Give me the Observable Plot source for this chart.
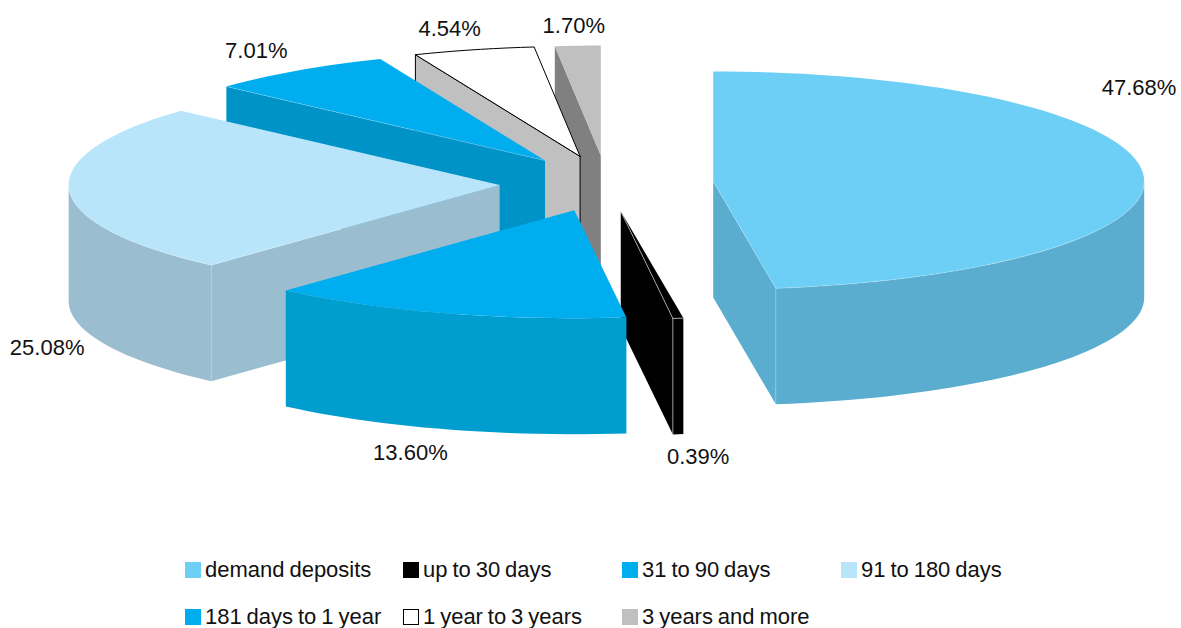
<!DOCTYPE html>
<html>
<head>
<meta charset="utf-8">
<script src="https://cdn.jsdelivr.net/npm/d3@7"></script>
<script src="https://cdn.jsdelivr.net/npm/@observablehq/plot@0.6"></script>
<style>
  html, body { margin: 0; padding: 0; background: #fff; overflow: hidden; }
  #chart svg { display: block; background: #fff; }
  #legend { height: 83px; box-sizing: border-box; padding: 0 0 0 185px; display: grid;
    grid-template-columns: 218px 219px 219px auto; grid-auto-rows: 47px;
    font: 22px/24px "Liberation Sans", Arial, sans-serif; word-spacing: -1.2px; color: #111; }
  #legend div { display: flex; align-items: center; white-space: nowrap; height: 47px; margin-top: 1px; }
  #legend i { display: inline-block; width: 16px; height: 16px; margin-right: 4px; box-sizing: border-box; flex: none; }
</style>
</head>
<body>
<div id="chart"></div>
<div id="legend"></div>
<script>
// Data
const categories = ["demand deposits", "up to 30 days", "31 to 90 days", "91 to 180 days", "181 days to 1 year", "1 year to 3 years", "3 years and more"];
const shares = [47.68, 0.39, 13.60, 25.08, 7.01, 4.54, 1.70];

// Styles
const topColors  = ["#6DCFF6", "#000000", "#00AEEF", "#B9E5FB", "#00AEEF", "#FFFFFF", "#C0C0C0"];
const wallColors = ["#5BADCF", "#000000", "#009DCF", "#9ABDD0", "#0093C8", "#C0C0C0", "#808080"];
const outlines   = ["none", "none", "none", "none", "none", "#000000", "none"];
const seams      = [0.3, 0.8, 0, 0.25, 0.3, 0, 0];
const paintOrder = [6, 5, 4, 3, 1, 2, 0];

// Pie layout (an exploded pie in oblique view, in chart units)
const W = 1181, H = 545;
const cx = 606, cy = 183, rx = 431, ryBack = 110, ryFront = 108, depth = 116, exX = 107, exY = 28;
const labelDx = [-4, 20, -34, -22, -41, -24, -4];
const labelDy = [-85, 139, 140, 158, -20, -21, -20];

const rad = d => d * Math.PI / 180;
const total = d3.sum(shares);
let acc = 0;
const slices = shares.map((v, i) => {
  const a0 = acc / total * 360; acc += v;
  const a1 = acc / total * 360, m = (a0 + a1) / 2;
  const ax = cx + exX * Math.sin(rad(m)), ay = cy - exY * Math.cos(rad(m));
  return {i, v, a0, a1, m, ax, ay};
});
const rim = (s, a, dz = 0) => {
  const c = Math.cos(rad(a));
  return [s.ax + rx * Math.sin(rad(a)), s.ay - (c > 0 ? ryBack : ryFront) * c + dz];
};
const arc = (s, from, to, dz = 0) => {
  const n = Math.max(1, Math.ceil(Math.abs(to - from) / 2));
  return d3.range(n + 1).map(k => rim(s, from + (to - from) * k / n, dz));
};
const rows = (polys, extra) => polys.flatMap((pts, id) => pts.map(([x, y]) => ({x, y, id, ...extra(id)})));

const sliceMarks = paintOrder.flatMap(i => {
  const s = slices[i], A = [s.ax, s.ay], Ab = [s.ax, s.ay + depth];
  const frontCut = Math.cos(rad(s.a1 + 90)) < -1e-9 ? s.a1 : Math.cos(rad(s.a0 - 90)) < -1e-9 ? s.a0 : null;
  const o0 = Math.max(s.a0, 90), o1 = Math.min(s.a1, 270);
  const polys = [], fills = [], lines = [];
  if (frontCut !== null) { polys.push([A, rim(s, frontCut), rim(s, frontCut, depth), Ab]); fills.push(wallColors[i]); }
  if (o1 > o0) { polys.push([...arc(s, o0, o1), ...arc(s, o1, o0, depth)]); fills.push(wallColors[i]); }
  polys.push([A, ...arc(s, s.a0, s.a1)]); fills.push(topColors[i]);
  if (seams[i] > 0) {
    if (frontCut !== null) lines.push([A, rim(s, frontCut), rim(s, frontCut, depth)]);
    if (o1 > o0) lines.push(arc(s, o0, o1));
  }
  const closed = polys.map(p => [...p, p[0]]);
  return [
    Plot.line(rows(closed, id => ({fill: fills[id]})), {x: "x", y: "y", z: "id", fill: "fill", stroke: outlines[i], strokeWidth: 1, curve: "linear"}),
    Plot.line(rows(lines, () => ({})), {x: "x", y: "y", z: "id", stroke: "#fff", strokeWidth: 0.7, strokeOpacity: seams[i], curve: "linear"})
  ];
});

const labels = slices.map(s => {
  const [x, y] = rim(s, s.m);
  return {x: x + labelDx[s.i], y: y + labelDy[s.i], text: s.v.toFixed(2) + "%"};
});

const chart = Plot.plot({
  width: W, height: H, margin: 0,
  x: {domain: [0, W], range: [0, W], axis: null},
  y: {domain: [0, H], range: [0, H], axis: null},
  color: {type: "identity"},
  style: {background: "#fff"},
  marks: [
    ...sliceMarks,
    Plot.text(labels, {x: "x", y: "y", text: "text", fontSize: 22, fontFamily: "Liberation Sans, Arial, sans-serif", fill: "#111", textAnchor: "middle", lineAnchor: "middle"})
  ]
});
document.getElementById("chart").append(chart);

const legend = document.getElementById("legend");
categories.forEach((c, i) => {
  const item = document.createElement("div");
  const sw = document.createElement("i");
  sw.style.background = topColors[i];
  if (outlines[i] !== "none") sw.style.border = "1px solid " + outlines[i];
  item.append(sw, document.createTextNode(c));
  legend.append(item);
});
</script>
</body>
</html>
